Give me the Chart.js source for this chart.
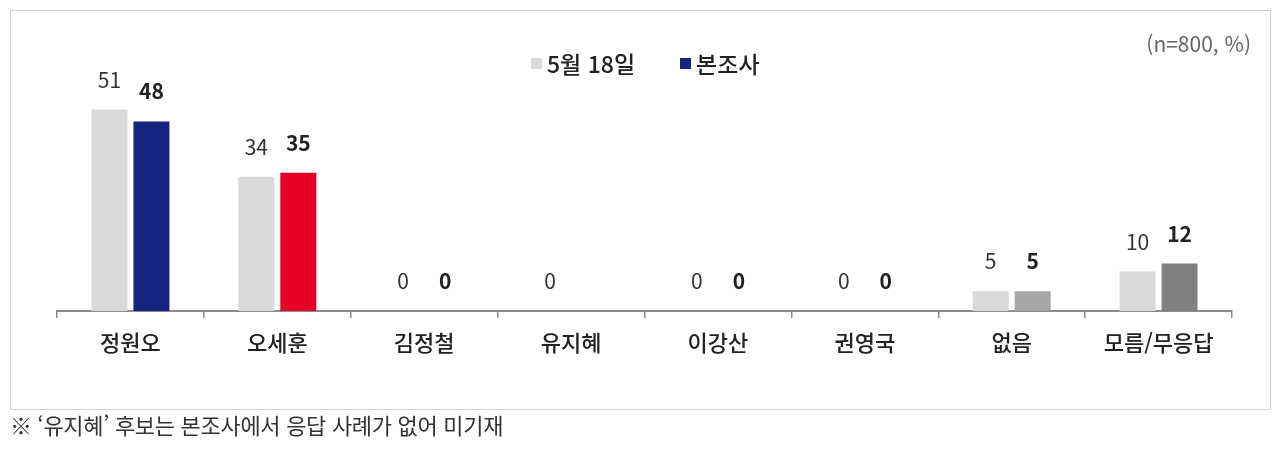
<!DOCTYPE html>
<html lang="ko">
<head>
<meta charset="utf-8">
<script src="https://cdn.jsdelivr.net/npm/chart.js@4.4.1/dist/chart.umd.min.js"></script>
<style>
  html, body { margin: 0; padding: 0; background: #fff; }
  body { width: 1280px; height: 452px; position: relative; overflow: hidden;
         font-family: "Noto Sans CJK KR", "Noto Sans", sans-serif; }
  #frame { position: absolute; left: 10px; top: 10px; width: 1259px; height: 398px;
           border: 1px solid #d4d4d4; }
  #wrap { position: absolute; left: 0; top: 0; width: 1280px; height: 452px; }
  #legend { position: absolute; top: 46px; left: 531px; display: flex; align-items: center;
            font-size: 23px; font-weight: 500; color: #222; }
  #legend span.item { display: flex; align-items: center; margin-right: 45px; }
  #legend i { display: inline-block; width: 11px; height: 11px; margin-right: 5px; }
  #unit { position: absolute; right: 29px; top: 28px; font-size: 21px; color: #666; }
  #note { position: absolute; left: 10px; top: 408px; font-size: 22px; color: #333;
          letter-spacing: -0.3px; }
</style>
</head>
<body>
<div id="frame"></div>
<div id="wrap"><canvas id="myChart"></canvas></div>
<div id="legend"></div>
<div id="unit">(n=800, %)</div>
<div id="note">※ ‘유지혜’ 후보는 본조사에서 응답 사례가 없어 미기재</div>
<script>
// data
var categories = ["정원오", "오세훈", "김정철", "유지혜", "이강산", "권영국", "없음", "모름/무응답"];
var seriesNames = ["5월 18일", "본조사"];
var may18Values = [51, 34, 0, 0, 0, 0, 5, 10];
var mainValues = [48, 35, 0, null, 0, 0, 5, 12];

var may18Color = "#d9d9d9";
var mainColors = ["#16237f", "#e60028", "#999999", "#999999", "#999999", "#999999", "#a6a6a6", "#808080"];
var legendColors = [may18Color, "#16237f"];

// html legend
var legendBox = document.getElementById("legend");
for (var i = 0; i < seriesNames.length; i++) {
  var item = document.createElement("span");
  item.className = "item";
  item.innerHTML = '<i style="background:' + legendColors[i] + '"></i>' + seriesNames[i];
  legendBox.appendChild(item);
}

// value labels above bars
var valueLabels = {
  id: "valueLabels",
  afterDatasetsDraw: function (chart) {
    var ctx = chart.ctx;
    chart.data.datasets.forEach(function (ds, di) {
      var meta = chart.getDatasetMeta(di);
      meta.data.forEach(function (bar, idx) {
        var v = ds.data[idx];
        if (v === null || v === undefined) return;
        ctx.save();
        ctx.font = (di === 1 ? "bold " : "") + "21px 'Noto Sans CJK KR', sans-serif";
        ctx.fillStyle = di === 1 ? "#222" : "#333";
        ctx.textAlign = "center";
        ctx.textBaseline = "alphabetic";
        ctx.fillText(String(v), bar.x, bar.y - 22);
        ctx.restore();
      });
    });
  }
};

new Chart("myChart", {
  type: "bar",
  data: {
    labels: categories,
    datasets: [
      { label: seriesNames[0], data: may18Values, backgroundColor: may18Color,
        categoryPercentage: 0.572, barPercentage: 0.857 },
      { label: seriesNames[1], data: mainValues, backgroundColor: mainColors,
        categoryPercentage: 0.572, barPercentage: 0.857 }
    ]
  },
  options: {
    responsive: true,
    maintainAspectRatio: false,
    animation: false,
    layout: { padding: { left: 57, right: 48, top: 74, bottom: 61 } },
    plugins: {
      legend: { display: false },
      tooltip: { enabled: false }
    },
    scales: {
      x: {
        grid: { drawOnChartArea: false, drawTicks: true, tickLength: 7, color: "#8c8c8c", lineWidth: 1.5 },
        border: { display: true, color: "#8c8c8c", width: 2 },
        ticks: {
          color: "#222",
          padding: 11,
          font: { family: "'Noto Sans CJK KR', sans-serif", size: 22, weight: 500 }
        },
        afterFit: function (scale) { scale.height = 80; }
      },
      y: {
        display: false,
        min: 0,
        max: 60
      }
    }
  },
  plugins: [valueLabels]
});
</script>
</body>
</html>
